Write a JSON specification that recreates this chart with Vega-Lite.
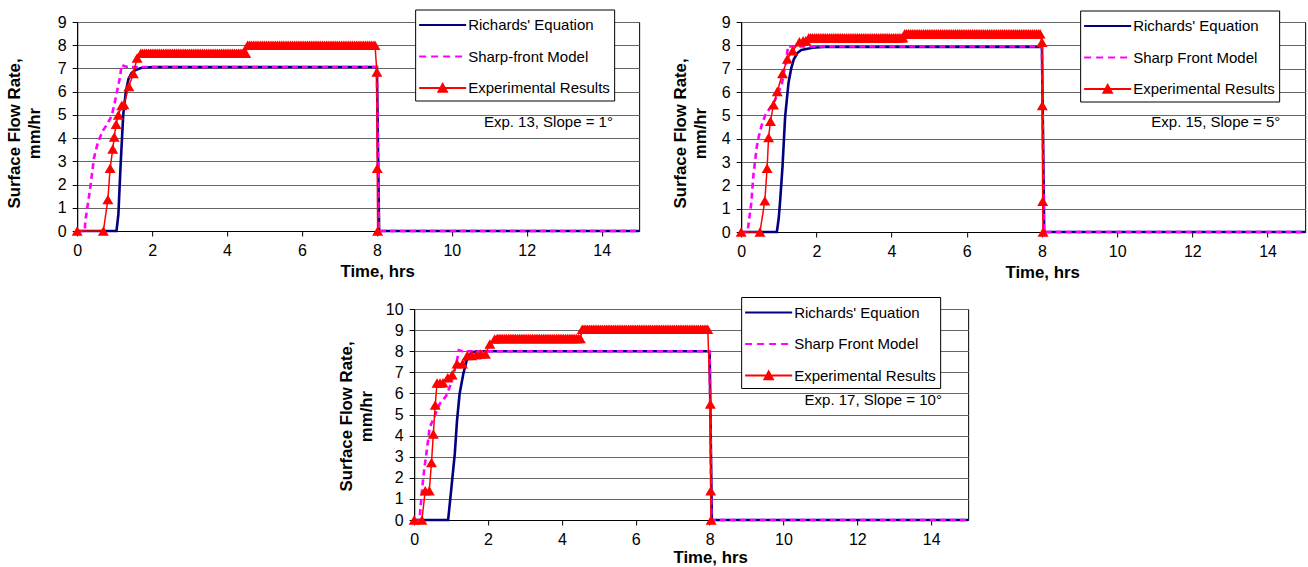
{
  "$schema": "https://vega.github.io/schema/vega-lite/v6.json",
  "background": "white",
  "padding": {"left": 5, "top": 8, "right": 0, "bottom": 0},
  "config": {
    "font": "Liberation Sans",
    "view": {"stroke": "black", "strokeWidth": 1},
    "axis": {"domainColor": "black", "tickColor": "black", "labelColor": "black", "titleColor": "black", "labelFontSize": 16, "titleFontSize": 16.8, "titleFontWeight": "bold", "tickSize": 5, "labelPadding": 6, "gridColor": "#666666", "gridWidth": 1, "labelFlush": false, "labelOverlap": false, "titleLineHeight": 20},
    "legend": {"orient": "none", "padding": 4, "strokeColor": "black", "fillColor": "white", "labelFontSize": 15, "labelColor": "black", "labelLimit": 300, "symbolSize": 441, "symbolOffset": 12, "labelOffset": 14, "rowPadding": 11.5}
  },
  "datasets": {
    "exp13_richards": [{"t":0,"v":0},{"t":1.05,"v":0},{"t":1.1,"v":0.7},{"t":1.16,"v":2.85},{"t":1.23,"v":5.0},{"t":1.3,"v":6.0},{"t":1.37,"v":6.55},{"t":1.45,"v":6.8},{"t":1.55,"v":6.92},{"t":1.7,"v":7.02},{"t":2.0,"v":7.06},{"t":8.0,"v":7.06},{"t":8.06,"v":0},{"t":15,"v":0}],
    "exp13_sharp": [{"t":0,"v":0},{"t":0.2,"v":0},{"t":0.22,"v":0.45},{"t":0.29,"v":1.2},{"t":0.36,"v":2.0},{"t":0.45,"v":3.15},{"t":0.55,"v":3.8},{"t":0.68,"v":4.3},{"t":0.8,"v":4.6},{"t":0.92,"v":4.95},{"t":1.0,"v":5.5},{"t":1.05,"v":5.9},{"t":1.14,"v":6.6},{"t":1.19,"v":7.16},{"t":1.25,"v":7.1},{"t":1.35,"v":7.06},{"t":8.0,"v":7.06},{"t":8.05,"v":0},{"t":15,"v":0}],
    "exp13_measured": [{"t":0,"v":0},{"t":0.7,"v":0},{"t":0.82,"v":1.36},{"t":0.88,"v":2.7},{"t":0.95,"v":3.53},{"t":0.99,"v":4.05},{"t":1.04,"v":4.6},{"t":1.1,"v":5.0},{"t":1.19,"v":5.4},{"t":1.25,"v":5.45},{"t":1.38,"v":6.22},{"t":1.5,"v":6.78},{"t":1.6,"v":7.45},
      {"t":1.7,"v":7.65},{"t":1.75,"v":7.65},{"t":1.8,"v":7.65},{"t":1.85,"v":7.65},{"t":1.9,"v":7.65},{"t":1.95,"v":7.65},{"t":2.0,"v":7.65},{"t":2.05,"v":7.65},{"t":2.1,"v":7.65},{"t":2.15,"v":7.65},{"t":2.2,"v":7.65},{"t":2.25,"v":7.65},{"t":2.3,"v":7.65},{"t":2.35,"v":7.65},{"t":2.4,"v":7.65},{"t":2.45,"v":7.65},{"t":2.5,"v":7.65},{"t":2.55,"v":7.65},{"t":2.6,"v":7.65},{"t":2.65,"v":7.65},{"t":2.7,"v":7.65},{"t":2.75,"v":7.65},{"t":2.8,"v":7.65},{"t":2.85,"v":7.65},{"t":2.9,"v":7.65},{"t":2.95,"v":7.65},{"t":3.0,"v":7.65},{"t":3.05,"v":7.65},{"t":3.1,"v":7.65},{"t":3.15,"v":7.65},{"t":3.2,"v":7.65},{"t":3.25,"v":7.65},{"t":3.3,"v":7.65},{"t":3.35,"v":7.65},{"t":3.4,"v":7.65},{"t":3.45,"v":7.65},{"t":3.5,"v":7.65},{"t":3.55,"v":7.65},{"t":3.6,"v":7.65},{"t":3.65,"v":7.65},{"t":3.7,"v":7.65},{"t":3.75,"v":7.65},{"t":3.8,"v":7.65},{"t":3.85,"v":7.65},{"t":3.9,"v":7.65},{"t":3.95,"v":7.65},{"t":4.0,"v":7.65},{"t":4.05,"v":7.65},{"t":4.1,"v":7.65},{"t":4.15,"v":7.65},{"t":4.2,"v":7.65},{"t":4.25,"v":7.65},{"t":4.3,"v":7.65},{"t":4.35,"v":7.65},{"t":4.4,"v":7.65},{"t":4.45,"v":7.65},{"t":4.5,"v":7.65},
      {"t":4.55,"v":8.0},{"t":4.6,"v":8.0},{"t":4.65,"v":8.0},{"t":4.7,"v":8.0},{"t":4.75,"v":8.0},{"t":4.8,"v":8.0},{"t":4.85,"v":8.0},{"t":4.9,"v":8.0},{"t":4.95,"v":8.0},{"t":5.0,"v":8.0},{"t":5.05,"v":8.0},{"t":5.1,"v":8.0},{"t":5.15,"v":8.0},{"t":5.2,"v":8.0},{"t":5.25,"v":8.0},{"t":5.3,"v":8.0},{"t":5.35,"v":8.0},{"t":5.4,"v":8.0},{"t":5.45,"v":8.0},{"t":5.5,"v":8.0},{"t":5.55,"v":8.0},{"t":5.6,"v":8.0},{"t":5.65,"v":8.0},{"t":5.7,"v":8.0},{"t":5.75,"v":8.0},{"t":5.8,"v":8.0},{"t":5.85,"v":8.0},{"t":5.9,"v":8.0},{"t":5.95,"v":8.0},{"t":6.0,"v":8.0},{"t":6.05,"v":8.0},{"t":6.1,"v":8.0},{"t":6.15,"v":8.0},{"t":6.2,"v":8.0},{"t":6.25,"v":8.0},{"t":6.3,"v":8.0},{"t":6.35,"v":8.0},{"t":6.4,"v":8.0},{"t":6.45,"v":8.0},{"t":6.5,"v":8.0},{"t":6.55,"v":8.0},{"t":6.6,"v":8.0},{"t":6.65,"v":8.0},{"t":6.7,"v":8.0},{"t":6.75,"v":8.0},{"t":6.8,"v":8.0},{"t":6.85,"v":8.0},{"t":6.9,"v":8.0},{"t":6.95,"v":8.0},{"t":7.0,"v":8.0},{"t":7.05,"v":8.0},{"t":7.1,"v":8.0},{"t":7.15,"v":8.0},{"t":7.2,"v":8.0},{"t":7.25,"v":8.0},{"t":7.3,"v":8.0},{"t":7.35,"v":8.0},{"t":7.4,"v":8.0},{"t":7.45,"v":8.0},{"t":7.5,"v":8.0},{"t":7.55,"v":8.0},{"t":7.6,"v":8.0},{"t":7.65,"v":8.0},{"t":7.7,"v":8.0},{"t":7.75,"v":8.0},{"t":7.8,"v":8.0},{"t":7.85,"v":8.0},{"t":7.9,"v":8.0},{"t":7.95,"v":8.0},
      {"t":8.0,"v":6.85},{"t":8.01,"v":2.7},{"t":8.02,"v":0}],
    "exp15_richards": [{"t":0,"v":0},{"t":0.95,"v":0},{"t":1.0,"v":0.6},{"t":1.04,"v":1.4},{"t":1.1,"v":2.8},{"t":1.17,"v":4.95},{"t":1.26,"v":6.4},{"t":1.33,"v":7.0},{"t":1.4,"v":7.4},{"t":1.5,"v":7.68},{"t":1.6,"v":7.8},{"t":1.9,"v":7.9},{"t":2.2,"v":7.93},{"t":8.0,"v":7.93},{"t":8.06,"v":0},{"t":15,"v":0}],
    "exp15_sharp": [{"t":0,"v":0},{"t":0.17,"v":0},{"t":0.19,"v":0.25},{"t":0.27,"v":1.25},{"t":0.33,"v":2.5},{"t":0.42,"v":3.7},{"t":0.47,"v":4.1},{"t":0.55,"v":4.6},{"t":0.64,"v":5.0},{"t":0.78,"v":5.35},{"t":0.91,"v":5.68},{"t":1.0,"v":6.0},{"t":1.09,"v":6.4},{"t":1.17,"v":7.1},{"t":1.25,"v":7.97},{"t":1.3,"v":7.95},{"t":8.0,"v":7.95},{"t":8.05,"v":0},{"t":15,"v":0}],
    "exp15_measured": [{"t":0,"v":0},{"t":0.5,"v":0},{"t":0.63,"v":1.34},{"t":0.69,"v":2.73},{"t":0.73,"v":4.05},{"t":0.78,"v":4.75},{"t":0.86,"v":5.45},{"t":0.96,"v":6.02},{"t":1.1,"v":6.79},{"t":1.23,"v":7.41},{"t":1.37,"v":7.77},{"t":1.55,"v":8.15},{"t":1.65,"v":8.2},{"t":1.72,"v":8.2},
      {"t":1.8,"v":8.33},{"t":1.85,"v":8.33},{"t":1.9,"v":8.33},{"t":1.95,"v":8.33},{"t":2.0,"v":8.33},{"t":2.05,"v":8.33},{"t":2.1,"v":8.33},{"t":2.15,"v":8.33},{"t":2.2,"v":8.33},{"t":2.25,"v":8.33},{"t":2.3,"v":8.33},{"t":2.35,"v":8.33},{"t":2.4,"v":8.33},{"t":2.45,"v":8.33},{"t":2.5,"v":8.33},{"t":2.55,"v":8.33},{"t":2.6,"v":8.33},{"t":2.65,"v":8.33},{"t":2.7,"v":8.33},{"t":2.75,"v":8.33},{"t":2.8,"v":8.33},{"t":2.85,"v":8.33},{"t":2.9,"v":8.33},{"t":2.95,"v":8.33},{"t":3.0,"v":8.33},{"t":3.05,"v":8.33},{"t":3.1,"v":8.33},{"t":3.15,"v":8.33},{"t":3.2,"v":8.33},{"t":3.25,"v":8.33},{"t":3.3,"v":8.33},{"t":3.35,"v":8.33},{"t":3.4,"v":8.33},{"t":3.45,"v":8.33},{"t":3.5,"v":8.33},{"t":3.55,"v":8.33},{"t":3.6,"v":8.33},{"t":3.65,"v":8.33},{"t":3.7,"v":8.33},{"t":3.75,"v":8.33},{"t":3.8,"v":8.33},{"t":3.85,"v":8.33},{"t":3.9,"v":8.33},{"t":3.95,"v":8.33},{"t":4.0,"v":8.33},{"t":4.05,"v":8.33},{"t":4.1,"v":8.33},{"t":4.15,"v":8.33},{"t":4.2,"v":8.33},{"t":4.25,"v":8.33},{"t":4.3,"v":8.33},
      {"t":4.35,"v":8.5},{"t":4.4,"v":8.5},{"t":4.45,"v":8.5},{"t":4.5,"v":8.5},{"t":4.55,"v":8.5},{"t":4.6,"v":8.5},{"t":4.65,"v":8.5},{"t":4.7,"v":8.5},{"t":4.75,"v":8.5},{"t":4.8,"v":8.5},{"t":4.85,"v":8.5},{"t":4.9,"v":8.5},{"t":4.95,"v":8.5},{"t":5.0,"v":8.5},{"t":5.05,"v":8.5},{"t":5.1,"v":8.5},{"t":5.15,"v":8.5},{"t":5.2,"v":8.5},{"t":5.25,"v":8.5},{"t":5.3,"v":8.5},{"t":5.35,"v":8.5},{"t":5.4,"v":8.5},{"t":5.45,"v":8.5},{"t":5.5,"v":8.5},{"t":5.55,"v":8.5},{"t":5.6,"v":8.5},{"t":5.65,"v":8.5},{"t":5.7,"v":8.5},{"t":5.75,"v":8.5},{"t":5.8,"v":8.5},{"t":5.85,"v":8.5},{"t":5.9,"v":8.5},{"t":5.95,"v":8.5},{"t":6.0,"v":8.5},{"t":6.05,"v":8.5},{"t":6.1,"v":8.5},{"t":6.15,"v":8.5},{"t":6.2,"v":8.5},{"t":6.25,"v":8.5},{"t":6.3,"v":8.5},{"t":6.35,"v":8.5},{"t":6.4,"v":8.5},{"t":6.45,"v":8.5},{"t":6.5,"v":8.5},{"t":6.55,"v":8.5},{"t":6.6,"v":8.5},{"t":6.65,"v":8.5},{"t":6.7,"v":8.5},{"t":6.75,"v":8.5},{"t":6.8,"v":8.5},{"t":6.85,"v":8.5},{"t":6.9,"v":8.5},{"t":6.95,"v":8.5},{"t":7.0,"v":8.5},{"t":7.05,"v":8.5},{"t":7.1,"v":8.5},{"t":7.15,"v":8.5},{"t":7.2,"v":8.5},{"t":7.25,"v":8.5},{"t":7.3,"v":8.5},{"t":7.35,"v":8.5},{"t":7.4,"v":8.5},{"t":7.45,"v":8.5},{"t":7.5,"v":8.5},{"t":7.55,"v":8.5},{"t":7.6,"v":8.5},{"t":7.65,"v":8.5},{"t":7.7,"v":8.5},{"t":7.75,"v":8.5},{"t":7.8,"v":8.5},{"t":7.85,"v":8.5},{"t":7.9,"v":8.5},{"t":7.95,"v":8.5},
      {"t":8.0,"v":8.13},{"t":8.01,"v":5.42},{"t":8.02,"v":1.32},{"t":8.03,"v":0}],
    "exp17_richards": [{"t":0,"v":0},{"t":0.92,"v":0},{"t":1.01,"v":1.55},{"t":1.1,"v":3.13},{"t":1.16,"v":4.7},{"t":1.23,"v":5.97},{"t":1.33,"v":6.92},{"t":1.42,"v":7.55},{"t":1.55,"v":7.94},{"t":1.7,"v":8.0},{"t":8.0,"v":8.0},{"t":8.06,"v":0},{"t":15,"v":0}],
    "exp17_sharp": [{"t":0,"v":0},{"t":0.14,"v":0},{"t":0.16,"v":0.3},{"t":0.22,"v":1.55},{"t":0.28,"v":2.5},{"t":0.33,"v":3.13},{"t":0.42,"v":4.39},{"t":0.56,"v":4.94},{"t":0.69,"v":5.5},{"t":0.87,"v":5.89},{"t":1.01,"v":6.52},{"t":1.14,"v":7.39},{"t":1.21,"v":8.05},{"t":1.3,"v":8.0},{"t":8.0,"v":8.0},{"t":8.05,"v":0},{"t":15,"v":0}],
    "exp17_measured": [{"t":0,"v":0},{"t":0.21,"v":0},{"t":0.3,"v":1.39},{"t":0.41,"v":1.39},{"t":0.47,"v":2.73},{"t":0.52,"v":4.08},{"t":0.57,"v":5.45},{"t":0.62,"v":6.49},{"t":0.7,"v":6.49},{"t":0.78,"v":6.5},{"t":0.91,"v":6.74},{"t":1.03,"v":6.88},{"t":1.16,"v":7.4},{"t":1.31,"v":7.4},{"t":1.44,"v":7.8},{"t":1.56,"v":7.8},{"t":1.68,"v":7.83},{"t":1.8,"v":7.87},{"t":1.93,"v":7.87},{"t":2.05,"v":8.34},{"t":2.18,"v":8.58},
      {"t":2.25,"v":8.6},{"t":2.3,"v":8.6},{"t":2.35,"v":8.6},{"t":2.4,"v":8.6},{"t":2.45,"v":8.6},{"t":2.5,"v":8.6},{"t":2.55,"v":8.6},{"t":2.6,"v":8.6},{"t":2.65,"v":8.6},{"t":2.7,"v":8.6},{"t":2.75,"v":8.6},{"t":2.8,"v":8.6},{"t":2.85,"v":8.6},{"t":2.9,"v":8.6},{"t":2.95,"v":8.6},{"t":3.0,"v":8.6},{"t":3.05,"v":8.6},{"t":3.1,"v":8.6},{"t":3.15,"v":8.6},{"t":3.2,"v":8.6},{"t":3.25,"v":8.6},{"t":3.3,"v":8.6},{"t":3.35,"v":8.6},{"t":3.4,"v":8.6},{"t":3.45,"v":8.6},{"t":3.5,"v":8.6},{"t":3.55,"v":8.6},{"t":3.6,"v":8.6},{"t":3.65,"v":8.6},{"t":3.7,"v":8.6},{"t":3.75,"v":8.6},{"t":3.8,"v":8.6},{"t":3.85,"v":8.6},{"t":3.9,"v":8.6},{"t":3.95,"v":8.6},{"t":4.0,"v":8.6},{"t":4.05,"v":8.6},{"t":4.1,"v":8.6},{"t":4.15,"v":8.6},{"t":4.2,"v":8.6},{"t":4.25,"v":8.6},{"t":4.3,"v":8.6},{"t":4.35,"v":8.6},{"t":4.4,"v":8.6},{"t":4.45,"v":8.6},{"t":4.5,"v":8.6},
      {"t":4.55,"v":9.04},{"t":4.6,"v":9.04},{"t":4.65,"v":9.04},{"t":4.7,"v":9.04},{"t":4.75,"v":9.04},{"t":4.8,"v":9.04},{"t":4.85,"v":9.04},{"t":4.9,"v":9.04},{"t":4.95,"v":9.04},{"t":5.0,"v":9.04},{"t":5.05,"v":9.04},{"t":5.1,"v":9.04},{"t":5.15,"v":9.04},{"t":5.2,"v":9.04},{"t":5.25,"v":9.04},{"t":5.3,"v":9.04},{"t":5.35,"v":9.04},{"t":5.4,"v":9.04},{"t":5.45,"v":9.04},{"t":5.5,"v":9.04},{"t":5.55,"v":9.04},{"t":5.6,"v":9.04},{"t":5.65,"v":9.04},{"t":5.7,"v":9.04},{"t":5.75,"v":9.04},{"t":5.8,"v":9.04},{"t":5.85,"v":9.04},{"t":5.9,"v":9.04},{"t":5.95,"v":9.04},{"t":6.0,"v":9.04},{"t":6.05,"v":9.04},{"t":6.1,"v":9.04},{"t":6.15,"v":9.04},{"t":6.2,"v":9.04},{"t":6.25,"v":9.04},{"t":6.3,"v":9.04},{"t":6.35,"v":9.04},{"t":6.4,"v":9.04},{"t":6.45,"v":9.04},{"t":6.5,"v":9.04},{"t":6.55,"v":9.04},{"t":6.6,"v":9.04},{"t":6.65,"v":9.04},{"t":6.7,"v":9.04},{"t":6.75,"v":9.04},{"t":6.8,"v":9.04},{"t":6.85,"v":9.04},{"t":6.9,"v":9.04},{"t":6.95,"v":9.04},{"t":7.0,"v":9.04},{"t":7.05,"v":9.04},{"t":7.1,"v":9.04},{"t":7.15,"v":9.04},{"t":7.2,"v":9.04},{"t":7.25,"v":9.04},{"t":7.3,"v":9.04},{"t":7.35,"v":9.04},{"t":7.4,"v":9.04},{"t":7.45,"v":9.04},{"t":7.5,"v":9.04},{"t":7.55,"v":9.04},{"t":7.6,"v":9.04},{"t":7.65,"v":9.04},{"t":7.7,"v":9.04},{"t":7.75,"v":9.04},{"t":7.8,"v":9.04},{"t":7.85,"v":9.04},{"t":7.9,"v":9.04},{"t":7.95,"v":9.04},
      {"t":8.02,"v":5.5},{"t":8.03,"v":1.39},{"t":8.04,"v":0}]
  },
  "vconcat": [
    {
      "hconcat": [
        {
          "width": 562, "height": 209,
          "encoding": {
            "x": {"field": "t", "type": "quantitative", "scale": {"domain": [0, 15], "nice": false}, "axis": {"title": "Time, hrs", "values": [0,2,4,6,8,10,12,14], "grid": false, "titleX": 300, "titlePadding": 5}},
            "y": {"field": "v", "type": "quantitative", "scale": {"domain": [0, 9], "nice": false}, "axis": {"title": ["Surface Flow Rate,", "mm/hr"], "values": [0,1,2,3,4,5,6,7,8,9], "grid": true, "titlePadding": 14, "titleY": 111}}
          },
          "layer": [
            {"data": {"name": "exp13_richards"}, "mark": {"type": "line", "strokeWidth": 2.6},
             "encoding": {"color": {"datum": "Richards' Equation", "type": "nominal",
               "scale": {"domain": ["Richards' Equation", "Sharp-front Model", "Experimental Results"], "range": ["#000080", "#FF00FF", "#FF0000"]},
               "legend": {"title": null, "legendX": 338, "legendY": -12.5,
                 "encode": {"symbols": {"update": {
                   "shape": [{"test": "datum.value === 'Experimental Results'", "value": "M-2.24,0L2.24,0M-0.4,0.36L0,-0.38L0.4,0.36Z"}, {"value": "M-2.24,0L2.24,0"}],
                   "strokeDash": [{"test": "indexof(datum.value, 'Sharp') === 0", "value": [7, 5]}, {"value": [1, 0]}],
                   "strokeWidth": {"value": 2},
                   "fill": [{"test": "datum.value === 'Experimental Results'", "value": "#FF0000"}, {"value": "transparent"}]
                 }}}}}}},
            {"data": {"name": "exp13_sharp"}, "mark": {"type": "line", "strokeWidth": 2.6, "strokeDash": [6, 4]},
             "encoding": {"color": {"datum": "Sharp-front Model", "type": "nominal"}}},
            {"data": {"name": "exp13_measured"}, "mark": {"type": "line", "strokeWidth": 1.5},
             "encoding": {"color": {"datum": "Experimental Results", "type": "nominal"}}},
            {"data": {"name": "exp13_measured"}, "mark": {"type": "point", "shape": "triangle-up", "filled": true, "color": "#FF0000", "size": 120, "opacity": 1}},
            {"data": {"values": [{"t": 14.3, "v": 4.69, "label": "Exp. 13, Slope = 1°"}]}, "mark": {"type": "text", "align": "right", "baseline": "middle", "fontSize": 15, "color": "black"},
             "encoding": {"text": {"field": "label"}}}
          ]
        },
        {
          "width": 564, "height": 210,
          "encoding": {
            "x": {"field": "t", "type": "quantitative", "scale": {"domain": [0, 15], "nice": false}, "axis": {"title": "Time, hrs", "values": [0,2,4,6,8,10,12,14], "grid": false, "titleX": 301, "titlePadding": 5}},
            "y": {"field": "v", "type": "quantitative", "scale": {"domain": [0, 9], "nice": false}, "axis": {"title": ["Surface Flow Rate,", "mm/hr"], "values": [0,1,2,3,4,5,6,7,8,9], "grid": true, "titlePadding": 12, "titleY": 111}}
          },
          "layer": [
            {"data": {"name": "exp15_richards"}, "mark": {"type": "line", "strokeWidth": 2.6},
             "encoding": {"color": {"datum": "Richards' Equation", "type": "nominal",
               "scale": {"domain": ["Richards' Equation", "Sharp Front Model", "Experimental Results"], "range": ["#000080", "#FF00FF", "#FF0000"]},
               "legend": {"title": null, "legendX": 339, "legendY": -11.5,
                 "encode": {"symbols": {"update": {
                   "shape": [{"test": "datum.value === 'Experimental Results'", "value": "M-2.24,0L2.24,0M-0.4,0.36L0,-0.38L0.4,0.36Z"}, {"value": "M-2.24,0L2.24,0"}],
                   "strokeDash": [{"test": "indexof(datum.value, 'Sharp') === 0", "value": [7, 5]}, {"value": [1, 0]}],
                   "strokeWidth": {"value": 2},
                   "fill": [{"test": "datum.value === 'Experimental Results'", "value": "#FF0000"}, {"value": "transparent"}]
                 }}}}}}},
            {"data": {"name": "exp15_sharp"}, "mark": {"type": "line", "strokeWidth": 2.6, "strokeDash": [6, 4]},
             "encoding": {"color": {"datum": "Sharp Front Model", "type": "nominal"}}},
            {"data": {"name": "exp15_measured"}, "mark": {"type": "line", "strokeWidth": 1.5},
             "encoding": {"color": {"datum": "Experimental Results", "type": "nominal"}}},
            {"data": {"name": "exp15_measured"}, "mark": {"type": "point", "shape": "triangle-up", "filled": true, "color": "#FF0000", "size": 120, "opacity": 1}},
            {"data": {"values": [{"t": 14.34, "v": 4.7, "label": "Exp. 15, Slope = 5°"}]}, "mark": {"type": "text", "align": "right", "baseline": "middle", "fontSize": 15, "color": "black"},
             "encoding": {"text": {"field": "label"}}}
          ]
        }
      ],
      "spacing": 26,
      "resolve": {"scale": {"color": "independent"}, "legend": {"color": "independent"}}
    },
    {
      "width": 554, "height": 211,
      "encoding": {
        "x": {"field": "t", "type": "quantitative", "scale": {"domain": [0, 15], "nice": false}, "axis": {"title": "Time, hrs", "values": [0,2,4,6,8,10,12,14], "grid": false, "titleX": 296, "titlePadding": 2}},
        "y": {"field": "v", "type": "quantitative", "scale": {"domain": [0, 10], "nice": false}, "axis": {"title": ["Surface Flow Rate,", "mm/hr"], "values": [0,1,2,3,4,5,6,7,8,9,10], "grid": true, "titlePadding": 10, "titleY": 107}}
      },
      "layer": [
        {"data": {"name": "exp17_richards"}, "mark": {"type": "line", "strokeWidth": 2.6},
         "encoding": {"color": {"datum": "Richards' Equation", "type": "nominal",
           "scale": {"domain": ["Richards' Equation", "Sharp Front Model", "Experimental Results"], "range": ["#000080", "#FF00FF", "#FF0000"]},
           "legend": {"title": null, "legendX": 327, "legendY": -12,
             "encode": {"symbols": {"update": {
               "shape": [{"test": "datum.value === 'Experimental Results'", "value": "M-2.24,0L2.24,0M-0.4,0.36L0,-0.38L0.4,0.36Z"}, {"value": "M-2.24,0L2.24,0"}],
               "strokeDash": [{"test": "indexof(datum.value, 'Sharp') === 0", "value": [7, 5]}, {"value": [1, 0]}],
               "strokeWidth": {"value": 2},
               "fill": [{"test": "datum.value === 'Experimental Results'", "value": "#FF0000"}, {"value": "transparent"}]
             }}}}}}},
        {"data": {"name": "exp17_sharp"}, "mark": {"type": "line", "strokeWidth": 2.6, "strokeDash": [6, 4]},
         "encoding": {"color": {"datum": "Sharp Front Model", "type": "nominal"}}},
        {"data": {"name": "exp17_measured"}, "mark": {"type": "line", "strokeWidth": 1.5},
         "encoding": {"color": {"datum": "Experimental Results", "type": "nominal"}}},
        {"data": {"name": "exp17_measured"}, "mark": {"type": "point", "shape": "triangle-up", "filled": true, "color": "#FF0000", "size": 120, "opacity": 1}},
        {"data": {"values": [{"t": 14.29, "v": 5.69, "label": "Exp. 17, Slope = 10°"}]}, "mark": {"type": "text", "align": "right", "baseline": "middle", "fontSize": 15, "color": "black"},
         "encoding": {"text": {"field": "label"}}}
      ]
    }
  ],
  "spacing": 14,
  "center": true,
  "resolve": {"scale": {"color": "independent"}, "legend": {"color": "independent"}}
}
